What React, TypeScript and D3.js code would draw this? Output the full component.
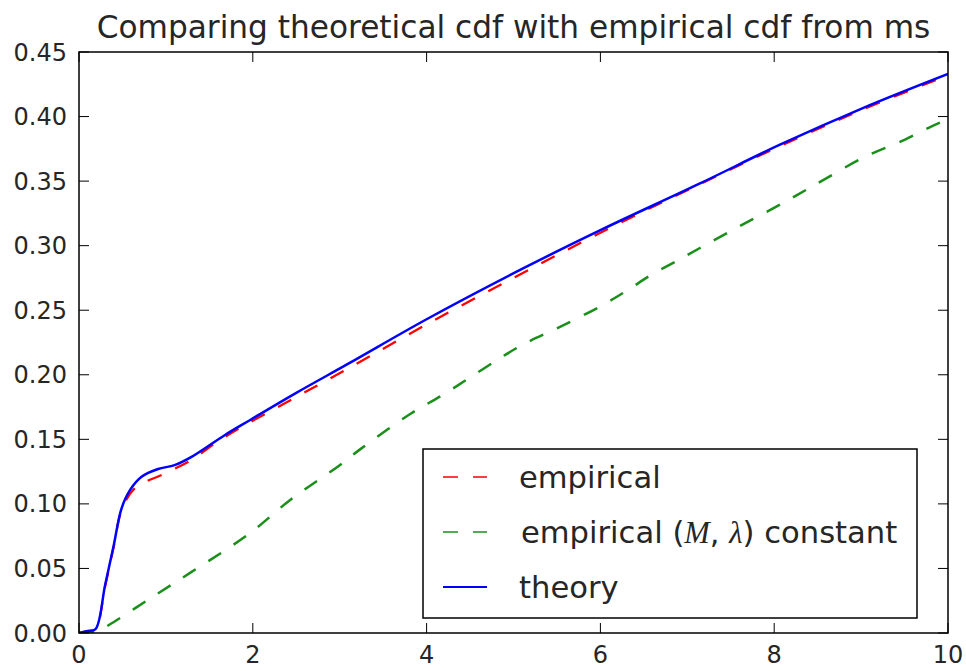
import React from "react";
import * as d3 from "d3";

const title = "Comparing theoretical cdf with empirical cdf from ms";

const xTicks = [0, 2, 4, 6, 8, 10];
const yTicks = [0, 0.05, 0.1, 0.15, 0.2, 0.25, 0.3, 0.35, 0.4, 0.45];

const theoryX = [0, 0.1, 0.19, 0.3, 0.4, 0.49, 0.59, 0.72, 0.91, 1.1, 1.3, 1.68, 1.97, 2.5, 3.11, 4.0, 5.07, 6.0, 7.14, 8.06, 9.0, 10];
const theoryY = [0, 0.0015, 0.003, 0.037, 0.068, 0.0966, 0.111, 0.121, 0.127, 0.13, 0.1366, 0.1534, 0.165, 0.186, 0.209, 0.243, 0.281, 0.312, 0.348, 0.378, 0.406, 0.433];

const empX = [0, 0.1, 0.19, 0.3, 0.4, 0.49, 0.64, 0.97, 1.28, 1.58, 1.87, 2.48, 3.1, 4.0, 5.0, 6.0, 7.0, 8.0, 9.0, 10];
const empY = [0, 0.0015, 0.003, 0.036, 0.067, 0.095, 0.112, 0.123, 0.1335, 0.1475, 0.1595, 0.182, 0.205, 0.239, 0.275, 0.31, 0.343, 0.375, 0.405, 0.432];

const constX = [0, 0.2, 0.34, 0.8, 1.3, 1.96, 2.43, 3.0, 3.25, 3.82, 4.2, 5.07, 5.5, 6.0, 6.3, 6.6, 6.9, 7.14, 7.6, 8.1, 8.44, 9.05, 9.5, 9.8, 10];
const constY = [0, 0.001, 0.006, 0.026, 0.0475, 0.077, 0.103, 0.13, 0.143, 0.17, 0.185, 0.222, 0.236, 0.253, 0.265, 0.278, 0.289, 0.298, 0.315, 0.333, 0.346, 0.369, 0.382, 0.392, 0.398];

const W = 966;
const H = 671;
const left = 79;
const right = 948;
const top = 52;
const bottom = 633;
const FONT = "DejaVu Sans, sans-serif";

export default function App() {
  const x = d3.scaleLinear().domain([0, 10]).range([left, right]);
  const y = d3.scaleLinear().domain([0, 0.45]).range([bottom, top]);
  const line = d3
    .line<[number, number]>()
    .x((d) => x(d[0]))
    .y((d) => y(d[1]))
    .curve(d3.curveCatmullRom.alpha(0.5));

  const zip = (a: number[], b: number[]) => a.map((v, i) => [v, b[i]] as [number, number]);

  const series = [
    { name: "empirical", d: zip(empX, empY), color: "#ff0000", dash: "15,15", w: 2.3 },
    { name: "const", d: zip(constX, constY), color: "#1a8f1a", dash: "15,15", w: 2.5 },
    { name: "theory", d: zip(theoryX, theoryY), color: "#0000ff", dash: undefined, w: 2.5 },
  ];

  const tickLen = 10;
  const lg = { x: 423, y: 449, w: 494, h: 169 };
  const rows = [477, 532, 587];
  const txt = "#262626";

  return (
    <svg
      width={W}
      height={H}
      style={{ position: "absolute", left: 0, top: 0, background: "#fff" }}
      fontFamily={FONT}
    >
      <defs>
        <clipPath id="plot">
          <rect x={left} y={top} width={right - left} height={bottom - top} />
        </clipPath>
      </defs>
      <rect x={0} y={0} width={W} height={H} fill="#fff" />
      <text x={(left + right) / 2} y={38} textAnchor="middle" fontSize={31.2} fill={txt}>
        {title}
      </text>

      <g clipPath="url(#plot)">
        {series.map((s) => (
          <path
            key={s.name}
            d={line(s.d) || ""}
            fill="none"
            stroke={s.color}
            strokeWidth={s.w}
            strokeDasharray={s.dash}
            strokeLinejoin="round"
          />
        ))}
      </g>

      {xTicks.map((t) => (
        <g key={"xt" + t}>
          <line x1={x(t)} x2={x(t)} y1={bottom} y2={bottom - tickLen} stroke="#000" strokeWidth={1} />
          <line x1={x(t)} x2={x(t)} y1={top} y2={top + tickLen} stroke="#000" strokeWidth={1} />
          <text x={x(t)} y={663} textAnchor="middle" fontSize={24} fill={txt}>
            {t}
          </text>
        </g>
      ))}
      {yTicks.map((t) => (
        <g key={"yt" + t}>
          <line x1={left} x2={left + tickLen} y1={y(t)} y2={y(t)} stroke="#000" strokeWidth={1} />
          <line x1={right} x2={right - tickLen} y1={y(t)} y2={y(t)} stroke="#000" strokeWidth={1} />
          <text x={67} y={y(t) + 8.5} textAnchor="end" fontSize={24} fill={txt}>
            {d3.format(".2f")(t)}
          </text>
        </g>
      ))}

      <rect
        x={left}
        y={top}
        width={right - left}
        height={bottom - top}
        fill="none"
        stroke="#000"
        strokeWidth={1.5}
      />

      <rect x={lg.x} y={lg.y} width={lg.w} height={lg.h} fill="#fff" stroke="#000" strokeWidth={1.5} />
      {series.map((s, i) => (
        <line
          key={"lg" + s.name}
          x1={443}
          x2={487}
          y1={rows[i]}
          y2={rows[i]}
          stroke={s.color}
          strokeWidth={s.dash ? 1.5 : 2}
          strokeDasharray={s.dash ? "15,15" : undefined}
        />
      ))}
      <text x={519} y={rows[0] + 11} fontSize={30.6} fill={txt}>
        empirical
      </text>
      <text x={521} y={rows[1] + 11} fontSize={30.6} fill={txt}>
        empirical (
        <tspan fontFamily="Liberation Serif, serif" fontStyle="italic">M</tspan>
        ,{" "}
        <tspan fontFamily="Liberation Serif, serif" fontStyle="italic">λ</tspan>
        ) constant
      </text>
      <text x={519} y={rows[2] + 11} fontSize={30.6} fill={txt}>
        theory
      </text>
    </svg>
  );
}
